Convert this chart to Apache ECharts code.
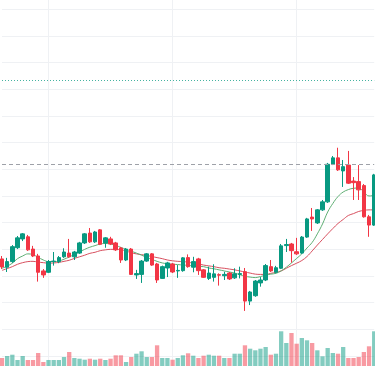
<!DOCTYPE html>
<html>
<head>
<meta charset="utf-8">
<script src="https://cdn.jsdelivr.net/npm/echarts@6/dist/echarts.min.js"></script>
<style>
html,body{margin:0;padding:0;background:#ffffff;}
#chart{width:375px;height:366px;}
</style>
</head>
<body>
<div id="chart"></div>
<script>
// [open, close, low, high]
const candles = [
 [13.64,13.34,13.26,13.75],[13.33,13.54,13.15,13.68],[13.54,14.10,13.49,14.16],[14.06,14.43,14.01,14.50],
 [14.39,14.58,14.31,14.61],[14.47,13.98,13.94,14.54],[14.01,13.75,13.71,14.13],[13.75,13.14,12.79,13.83],
 [13.19,13.04,12.93,13.26],[13.14,13.54,13.11,13.60],[13.54,13.56,13.39,13.90],[13.54,13.69,13.48,13.75],
 [13.72,13.90,13.68,14.04],[13.86,13.72,13.68,14.39],[13.72,13.90,13.60,13.94],[13.86,14.24,13.83,14.28],
 [14.24,14.58,14.20,14.61],[14.61,14.28,14.24,14.80],[14.28,14.65,14.24,14.69],[14.73,14.19,14.16,14.76],
 [14.24,14.43,14.06,14.46],[14.39,14.20,14.16,14.47],[14.24,13.98,13.94,14.28],[14.05,13.60,13.49,14.09],
 [13.60,14.01,13.56,14.05],[14.01,13.06,13.04,14.05],[13.04,13.09,12.89,13.23],[13.06,13.56,12.74,13.60],
 [13.56,13.83,13.53,13.86],[13.83,13.41,13.38,13.86],[13.45,12.85,12.74,13.49],[12.91,13.35,12.89,13.39],
 [13.30,13.49,12.96,13.53],[13.45,13.15,13.11,13.49],[13.19,13.21,12.93,13.41],[13.20,13.68,13.16,13.71],
 [13.69,13.35,13.31,13.81],[13.33,13.54,13.14,13.72],[13.64,13.20,13.04,13.68],[13.23,12.95,12.93,13.26],
 [12.91,13.11,12.85,13.35],[12.95,13.08,12.79,13.44],[13.05,13.03,12.64,13.10],[13.01,13.06,12.85,13.16],
 [13.11,12.89,12.85,13.15],[12.93,13.08,12.89,13.29],[13.06,13.09,12.91,13.35],[13.16,12.06,11.69,13.30],
 [12.06,12.40,11.91,12.44],[12.26,12.81,12.22,12.85],[12.74,12.85,12.60,12.96],[12.85,13.39,12.81,13.45],
 [13.35,13.19,13.15,13.60],[13.14,13.31,13.10,13.38],[13.29,14.13,13.26,14.20],[14.14,14.18,13.90,14.39],
 [14.20,13.95,13.50,14.24],[13.91,13.83,13.79,14.43],[13.86,14.46,13.83,14.50],[14.46,15.14,14.43,15.18],
 [15.21,15.14,14.69,15.55],[14.99,15.48,14.95,15.51],[15.48,15.78,15.44,15.85],[15.78,17.19,15.74,17.24],
 [17.19,17.43,17.16,17.50],[17.43,16.98,16.94,17.81],[16.94,17.10,16.34,17.35],[17.16,16.48,16.45,17.69],
 [16.56,16.50,15.85,16.71],[16.54,16.23,15.85,17.16],[16.39,15.22,15.19,16.45],[15.22,14.91,14.47,15.29],
 [14.91,16.79,14.88,16.83]
];
const volumes = [
 80,100,113,60,100,60,60,130,40,60,60,60,90,140,80,73,63,73,63,73,60,73,107,107,40,90,123,147,90,90,
 207,80,80,63,80,107,127,103,80,103,113,103,103,80,80,123,123,207,173,157,173,190,113,123,347,230,330,223,280,257,
 230,157,97,180,130,123,190,80,80,90,140,197,347
];
const maFast = [
 13.29,13.37,13.48,13.65,13.75,13.83,13.80,13.70,13.60,13.54,13.54,13.56,13.63,13.71,13.81,13.90,14.00,14.08,14.14,14.20,
 14.22,14.20,14.15,14.07,14.00,13.93,13.86,13.78,13.70,13.62,13.55,13.49,13.46,13.44,13.43,13.41,13.40,13.38,13.36,13.35,
 13.30,13.27,13.23,13.19,13.15,13.11,13.05,12.99,12.96,12.94,12.98,13.03,13.07,13.10,13.19,13.33,13.49,13.66,13.83,14.05,
 14.26,14.58,14.95,15.40,15.72,15.98,16.15,16.24,16.29,16.30,16.15,16.00,16.02
];
const maSlow = [
 13.21,13.28,13.35,13.44,13.50,13.54,13.55,13.52,13.50,13.48,13.49,13.51,13.55,13.59,13.66,13.72,13.78,13.85,13.89,13.95,
 13.98,14.00,14.00,13.98,13.94,13.87,13.83,13.80,13.77,13.73,13.69,13.65,13.60,13.57,13.55,13.54,13.52,13.48,13.45,13.41,
 13.38,13.35,13.31,13.29,13.26,13.23,13.19,13.15,13.11,13.07,13.06,13.06,13.10,13.14,13.19,13.29,13.39,13.48,13.58,13.73,
 13.94,14.16,14.37,14.58,14.78,14.97,15.12,15.27,15.34,15.42,15.46,15.48,15.48
];
const highLine = 20.34;
const lastLine = 17.19;
const priceMin = 10, priceMax = 23, priceStep = 1;
const categories = candles.map((c, i) => String(i + 1));

const UP = '#089981', DOWN = '#f23645';
const volData = volumes.map((v, i) => ({
  value: v,
  itemStyle: { color: candles[i][1] >= candles[i][0] ? 'rgba(8,153,129,0.5)' : 'rgba(242,54,69,0.5)' }
}));

const chart = echarts.init(document.getElementById('chart'), null, { renderer: 'canvas' });
const gridColor = '#eff1f4';
const hiddenAxis = { axisLine: { show: false }, axisTick: { show: false }, axisLabel: { show: false } };
chart.setOption({
  animation: false,
  backgroundColor: '#ffffff',
  grid: [
    { left: 2, right: 0.8, top: 9.333, bottom: 10 },
    { left: 2, right: 0.8, top: 266, bottom: 0 },
    { left: 2, right: 0.8, top: 0, bottom: 0 }
  ],
  xAxis: [
    Object.assign({ type: 'category', data: categories, boundaryGap: false, gridIndex: 0, splitLine: { show: false } }, hiddenAxis),
    Object.assign({ type: 'category', data: categories, boundaryGap: false, gridIndex: 1, splitLine: { show: false } }, hiddenAxis),
    Object.assign({ type: 'category', data: categories, boundaryGap: false, gridIndex: 2,
      splitLine: { show: true, interval: (idx) => (idx - 9) % 24 === 0, lineStyle: { color: gridColor, width: 1 } } }, hiddenAxis)
  ],
  yAxis: [
    Object.assign({ type: 'value', gridIndex: 0, min: priceMin, max: priceMax, interval: priceStep,
      splitLine: { show: true, lineStyle: { color: gridColor, width: 1 } } }, hiddenAxis),
    Object.assign({ type: 'value', gridIndex: 1, min: 0, max: 1000, splitLine: { show: false } }, hiddenAxis),
    Object.assign({ type: 'value', gridIndex: 2, min: 0, max: 1, splitLine: { show: false } }, hiddenAxis)
  ],
  series: [
    { type: 'bar', xAxisIndex: 1, yAxisIndex: 1, data: volData, barWidth: 4.3, z: 1 },
    { type: 'line', xAxisIndex: 0, yAxisIndex: 0, data: maSlow, smooth: 0.4, symbol: 'none',
      lineStyle: { color: '#d7505f', width: 1 }, z: 2 },
    { type: 'line', xAxisIndex: 0, yAxisIndex: 0, data: maFast, smooth: 0.4, symbol: 'none',
      lineStyle: { color: '#5fae74', width: 1 }, z: 2 },
    { type: 'candlestick', xAxisIndex: 0, yAxisIndex: 0, data: candles, barWidth: 4, clip: false, z: 3,
      itemStyle: { color: UP, color0: DOWN, borderColor: UP, borderColor0: DOWN, borderWidth: 1 },
      markLine: {
        silent: true, symbol: ['none', 'none'], label: { show: false },
        data: [
          { yAxis: highLine, lineStyle: { color: 'rgba(8,153,129,0.75)', type: [1, 2], width: 1 } },
          { yAxis: lastLine, lineStyle: { color: '#9ea1a8', type: [4, 3], width: 1 } }
        ]
      } }
  ]
});
</script>
</body>
</html>
